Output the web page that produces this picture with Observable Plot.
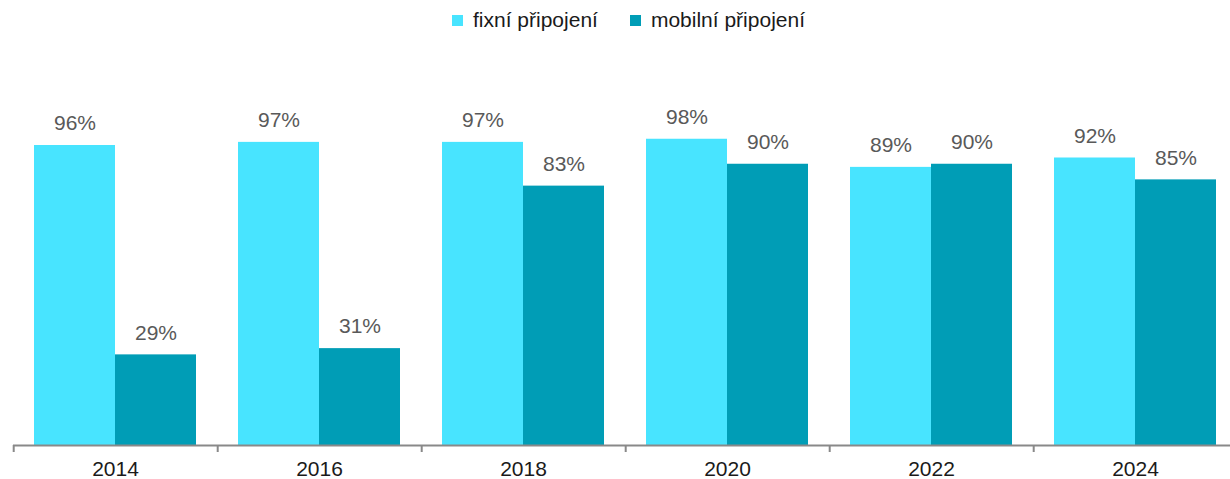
<!DOCTYPE html>
<html><head><meta charset="utf-8">
<script src="https://cdn.jsdelivr.net/npm/d3@7"></script>
<script src="https://cdn.jsdelivr.net/npm/@observablehq/plot@0.6"></script>
<style>
html,body{margin:0;background:#fff;font-family:"Liberation Sans",Arial,sans-serif;overflow:hidden;width:1230px;height:479px;}
#legend{width:1230px;height:40px;display:flex;justify-content:center;align-items:center;padding-left:27px;box-sizing:border-box;font-size:21px;color:#1a1a1a;}
.item{display:flex;align-items:center;margin:0 16px;}
.sw{width:11px;height:11px;margin-right:10px;}
#chart{width:1230px;overflow:hidden;}
#chart svg{display:block;max-width:none !important;height:439px !important;}
</style></head><body>
<div id="legend"></div><div id="chart"></div>
<script>
const years = ["2014","2016","2018","2020","2022","2024"];
const series = ["fixní připojení","mobilní připojení"];
const fixni = [96,97,97,98,89,92];
const mobilni = [29,31,83,90,90,85];
const colors = ["#48E4FF","#009DB6"];

const data = years.flatMap((y,i)=>[
  {year:y, series:series[0], value:fixni[i]},
  {year:y, series:series[1], value:mobilni[i]}
]);

const legend = document.getElementById("legend");
series.forEach((s,i)=>{
  const it = document.createElement("div"); it.className="item";
  const sw = document.createElement("div"); sw.className="sw"; sw.style.background=colors[i];
  const t = document.createElement("span"); t.textContent=s;
  it.appendChild(sw); it.appendChild(t); legend.appendChild(it);
});

const plot = Plot.plot({
  width:1238, height:439, marginLeft:12, marginRight:0, marginTop:92.5, marginBottom:34,
  style:{fontFamily:'"Liberation Sans",Arial,sans-serif', fontSize:"21px", color:"#1a1a1a", background:"#fff"},
  fx:{domain:years, padding:0, label:null, axis:"bottom", tickSize:0, tickPadding:16},
  x:{domain:series, paddingInner:0, paddingOuter:0.25, axis:null},
  y:{domain:[0,100], axis:null},
  color:{domain:series, range:colors},
  marks:[
    Plot.barY(data,{fx:"year", x:"series", y:"value", fill:"series"}),
    Plot.text(data,{fx:"year", x:"series", y:"value", text:d=>d.value+"%", dy:-22, fill:"#595959", lineAnchor:"middle", fontSize:21}),
    Plot.ruleY([0],{stroke:"#898989", strokeWidth:2}),
    Plot.ruleX(years,{fx:d=>d, x:()=>series[0], y1:0, y2:-2.24, dx:-61.3, stroke:"#898989", strokeWidth:2})
  ]
});
document.getElementById("chart").appendChild(plot);
</script>
</body></html>
